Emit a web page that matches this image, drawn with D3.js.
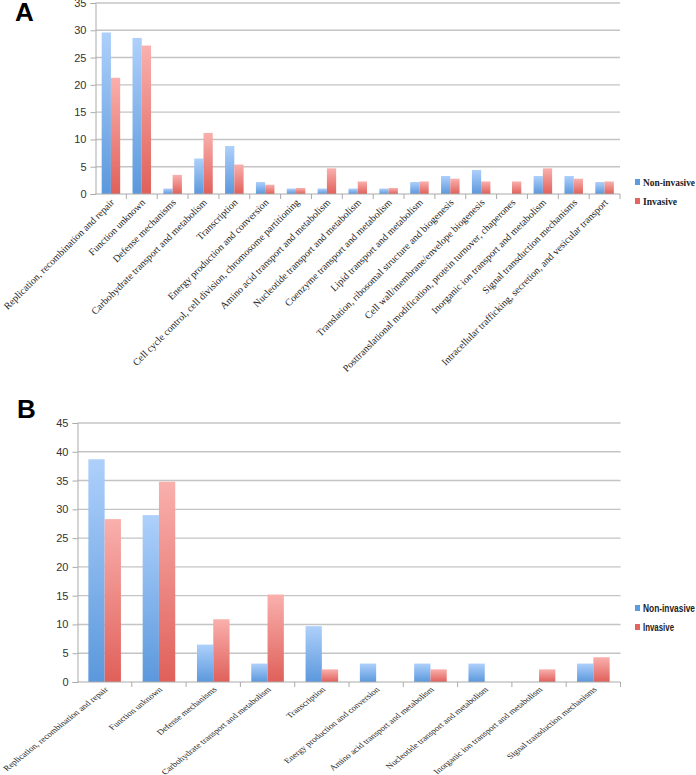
<!DOCTYPE html>
<html lang="en">
  <head>
    <meta charset="utf-8">
    <title>COG categories</title>
    <script src="https://d3js.org/d3.v7.min.js"></script>
    <style type="text/css">
      html, body {
        margin: 0; padding: 0;
        background: #fff;
      }
      svg { display: block; }
      .tick-y { font-family: "Liberation Sans", Arial, sans-serif; font-size: 11px; fill: #333; }
      .cat { font-family: "Liberation Serif", "DejaVu Serif", serif; fill: #222; }
      .legend { font-family: "Liberation Serif", serif; font-size: 10.5px; font-weight: bold; fill: #222; }
      .panel { font-family: "Liberation Sans", Arial, sans-serif; font-size: 26px; font-weight: bold; fill: #000; }
    </style>
  </head>

  <body>
    <svg width="696" height="775"></svg>

    <script type="text/javascript">

      // Panel A: all categories
      var catsA = [
        "Replication, recombination and repair",
        "Function unknown",
        "Defense mechanisms",
        "Carbohydrate transport and metabolism",
        "Transcription",
        "Energy production and conversion",
        "Cell cycle control, cell division, chromosome partitioning",
        "Amino acid transport and metabolism",
        "Nucleotide transport and metabolism",
        "Coenzyme transport and metabolism",
        "Lipid transport and metabolism",
        "Translation, ribosomal structure and biogenesis",
        "Cell wall/membrane/envelope biogenesis",
        "Posttranslational modification, protein turnover, chaperones",
        "Inorganic ion transport and metabolism",
        "Signal transduction mechanisms",
        "Intracellular trafficking, secretion, and vesicular transport"
      ];
      var nonInvA = [29.6, 28.6, 1.0, 6.5, 8.8, 2.2, 1.0, 1.0, 1.0, 1.0, 2.2, 3.3, 4.4, 0, 3.3, 3.3, 2.2];
      var invA    = [21.3, 27.2, 3.5, 11.2, 5.4, 1.7, 1.1, 4.7, 2.3, 1.1, 2.3, 2.8, 2.3, 2.3, 4.7, 2.8, 2.3];
      var ticksA  = [0, 5, 10, 15, 20, 25, 30, 35];

      // Panel B: subset
      var catsB = [
        "Replication, recombination and repair",
        "Function unknown",
        "Defense mechanisms",
        "Carbohydrate transport and metabolism",
        "Transcription",
        "Energy production and conversion",
        "Amino acid transport and metabolism",
        "Nucleotide transport and metabolism",
        "Inorganic ion transport and metabolism",
        "Signal transduction mechanisms"
      ];
      var nonInvB = [38.7, 29.0, 6.5, 3.2, 9.7, 3.2, 3.2, 3.2, 0, 3.2];
      var invB    = [28.3, 34.8, 10.9, 15.2, 2.2, 0, 2.2, 0, 2.2, 4.3];
      var ticksB  = [0, 5, 10, 15, 20, 25, 30, 35, 40, 45];

      var seriesNames = ["Non-invasive", "Invasive"];

      var svg = d3.select("svg");

      // gradients like the old Excel bars
      var defs = svg.append("defs");
      function grad(id, top, bottom) {
        var g = defs.append("linearGradient").attr("id", id)
                    .attr("x1", 0).attr("y1", 0).attr("x2", 0).attr("y2", 1);
        g.append("stop").attr("offset", "0%").attr("stop-color", top);
        g.append("stop").attr("offset", "100%").attr("stop-color", bottom);
      }
      grad("gBlue", "#aed0fb", "#5b98dc");
      grad("gRed", "#f9b0ad", "#e0605a");
      var fills = ["url(#gBlue)", "url(#gRed)"];
      var keyCols = ["#5d9be0", "#e46560"];

      function drawPanel(o) {
        var g = svg.append("g");

        var x = d3.scaleBand()
                  .domain(d3.range(o.cats.length))
                  .range([o.left, o.right]);
        var bw = x.bandwidth();
        var x1 = d3.scaleBand()
                   .domain([0, 1])
                   .range([bw * 0.2, bw * 0.8]);
        var y = d3.scaleLinear()
                  .domain([0, d3.max(o.ticks)])
                  .range([o.bottom, o.top]);

        // gridlines
        g.selectAll("line.grid")
         .data(o.ticks.slice(1))
         .enter().append("line")
         .attr("x1", o.left).attr("x2", o.right)
         .attr("y1", function(d) { return y(d); })
         .attr("y2", function(d) { return y(d); })
         .style("stroke", "#c4c4c4")
         .style("stroke-width", 1.4);

        // bars
        var groups = g.selectAll("g.cat")
                      .data(o.cats)
                      .enter().append("g")
                      .attr("transform", function(d, i) { return "translate(" + x(i) + ",0)"; });
        groups.selectAll("rect")
              .data(function(d, i) { return [o.s1[i], o.s2[i]]; })
              .enter().append("rect")
              .attr("x", function(d, j) { return x1(j); })
              .attr("width", x1.bandwidth())
              .attr("y", function(d) { return y(d); })
              .attr("height", function(d) { return y(0) - y(d); })
              .style("fill", function(d, j) { return fills[j]; });

        // y axis
        var yAxis = d3.axisLeft(y).tickValues(o.ticks).tickSize(5).tickPadding(4);
        var ya = g.append("g").attr("transform", "translate(" + o.left + ",0)").call(yAxis);
        ya.select(".domain").style("stroke", "#aaa");
        ya.selectAll(".tick line").style("stroke", "#aaa");
        ya.selectAll(".tick text").attr("class", "tick-y").attr("font-family", null).attr("font-size", null);

        // x axis line and ticks between categories
        g.append("line")
         .attr("x1", o.left).attr("x2", o.right)
         .attr("y1", y(0)).attr("y2", y(0))
         .style("stroke", "#aaa");
        g.selectAll("line.xt")
         .data(d3.range(1, o.cats.length + 1))
         .enter().append("line")
         .attr("x1", function(i) { return o.left + i * bw; })
         .attr("x2", function(i) { return o.left + i * bw; })
         .attr("y1", y(0)).attr("y2", y(0) + 5)
         .style("stroke", "#aaa");

        // category labels, rotated (panel B is squashed vertically like the source image)
        g.selectAll("text.cat")
         .data(o.cats)
         .enter().append("text")
         .attr("class", "cat")
         .style("font-size", o.labSize + "px")
         .attr("text-anchor", "end")
         .attr("transform", function(d, i) {
           return "translate(" + (x(i) + bw / 2 + 4) + "," + (y(0) + o.labDy) + ") scale(1," + o.squash + ") rotate(-45)";
         })
         .text(function(d) { return d; });

        // legend
        var lg = g.append("g").attr("transform", "translate(" + o.legX + "," + o.legY + ")");
        seriesNames.forEach(function(n, j) {
          lg.append("rect").attr("x", 0).attr("y", j * 19 - 4).attr("width", 5).attr("height", 6)
            .style("fill", keyCols[j]);
          lg.append("text").attr("class", "legend").attr("x", 8).attr("y", j * 19 + 3)
            .attr("textLength", o.legLen[j])
            .attr("lengthAdjust", "spacingAndGlyphs")
            .style("font-family", o.legFont)
            .text(n);
        });

        svg.append("text").attr("class", "panel").attr("x", o.letterX).attr("y", o.letterY).text(o.letter);
      }

      drawPanel({
        cats: catsA, s1: nonInvA, s2: invA, ticks: ticksA,
        left: 95.5, right: 620, top: 3, bottom: 194,
        labSize: 10, squash: 1, labDy: 9,
        legX: 635, legY: 183, legFont: null, legLen: [52, 34],
        letter: "A", letterX: 15, letterY: 21
      });

      drawPanel({
        cats: catsB, s1: nonInvB, s2: invB, ticks: ticksB,
        left: 77.5, right: 620.5, top: 423, bottom: 682,
        labSize: 9.5, squash: 0.8, labDy: 8,
        legX: 635, legY: 609, legFont: "'Liberation Sans', Arial, sans-serif", legLen: [52, 31],
        letter: "B", letterX: 17, letterY: 418
      });

    </script>
  </body>
</html>
